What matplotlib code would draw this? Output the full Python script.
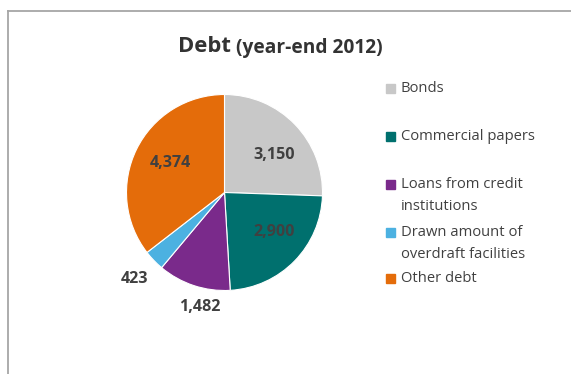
import matplotlib.pyplot as plt
import matplotlib.patches as mpatches
import numpy as np

# долг на конец 2012 года
categories = ['Bonds', 'Commercial papers', 'Loans from credit\ninstitutions',
              'Drawn amount of\noverdraft facilities', 'Other debt']
values = [3150, 2900, 1482, 423, 4374]
value_labels = ['3,150', '2,900', '1,482', '423', '4,374']
colors = ['#c8c8c8', '#00706e', '#7a2a8b', '#4cb1e1', '#e46c0a']
# положение подписей: радиус и сдвиг угла от середины сектора
label_radius = [0.64, 0.65, 1.2, 1.27, 0.63]
label_shift = [-7, 6, 6, 0, -2]

plt.rcParams['font.family'] = ['Open Sans', 'DejaVu Sans']

W, H = 571, 374
fig = plt.figure(figsize=(W / 100, H / 100), dpi=100)

# рамка диаграммы
fig.add_artist(plt.Line2D([8 / W, 8 / W], [0, 1 - 10.5 / H], color='#a6a6a6', lw=1.3))
fig.add_artist(plt.Line2D([8 / W, 1], [1 - 10.5 / H, 1 - 10.5 / H], color='#a6a6a6', lw=1.3))

# круговая диаграмма
cx, cy, r = 224.5, H - 192.5, 98
ax = fig.add_axes([(cx - r) / W, (cy - r) / H, 2 * r / W, 2 * r / H])
wedges, _ = ax.pie(values, colors=colors, startangle=90, counterclock=False,
                   wedgeprops=dict(edgecolor='white', linewidth=0.8))
ax.set_xlim(-1, 1)
ax.set_ylim(-1, 1)
ax.set_aspect('equal')
ax.axis('off')

for w, txt, rr, sh in zip(wedges, value_labels, label_radius, label_shift):
    ang = np.deg2rad((w.theta1 + w.theta2) / 2 + sh)
    ax.text(rr * np.cos(ang), rr * np.sin(ang), txt, ha='center', va='center',
            fontsize=11.6, fontweight='bold', color='#404040', clip_on=False)

# заголовок
fig.text(178 / W, 1 - 47 / H, 'Debt', fontsize=15.8, fontweight='bold',
         color='#333333', ha='left', va='center')
fig.text(236 / W, 1 - 48 / H, '(year-end 2012)', fontsize=13.8, fontweight='bold',
         color='#333333', ha='left', va='center')

# легенда
legend_y = [88, 136, 184, 232, 278]
for cat, col, y in zip(categories, colors, legend_y):
    fig.add_artist(mpatches.Rectangle((386 / W, 1 - (y + 4.5) / H), 9 / W, 9 / H,
                                      color=col, transform=fig.transFigure))
    fig.text(401 / W, 1 - (y - 6.5) / H, cat, fontsize=10.6, color='#404040',
             ha='left', va='top', linespacing=1.62)

fig.savefig('out.png', dpi=100)
